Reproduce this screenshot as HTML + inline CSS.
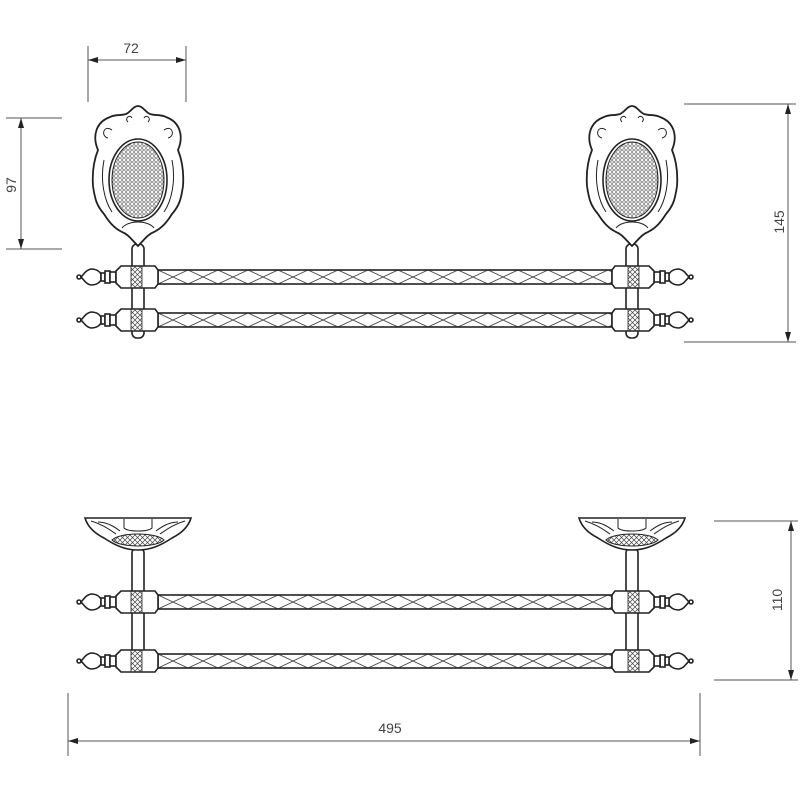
<!DOCTYPE html>
<html><head><meta charset="utf-8"><style>html,body{margin:0;padding:0;background:#fff}svg{display:block}text{font-family:"Liberation Sans",sans-serif;font-size:14px;fill:#444}</style></head>
<body>
<svg width="800" height="800" viewBox="0 0 800 800" xmlns="http://www.w3.org/2000/svg">
<defs>
<pattern id="net" width="5" height="5" patternUnits="userSpaceOnUse"><path d="M0 0L5 5M5 0L0 5" stroke="#444" stroke-width="0.7"/></pattern>
<pattern id="hex" width="4" height="4" patternUnits="userSpaceOnUse"><circle cx="2" cy="2" r="1.3" fill="none" stroke="#444" stroke-width="0.6"/></pattern>
<pattern id="tubeX" width="60" height="14" patternUnits="userSpaceOnUse" x="158" y="-7"><path d="M0 0L30 14L60 0M0 14L30 0L60 14" fill="none" stroke="#444" stroke-width="0.9"/></pattern>
<marker id="ar" viewBox="0 0 10 6" refX="10" refY="3" markerWidth="10" markerHeight="6" orient="auto-start-reverse" markerUnits="userSpaceOnUse"><path d="M0 0L10 3L0 6z" fill="#222"/></marker>
<g id="endL" fill="#fff" stroke="#222" stroke-width="1.6">
<circle cx="79" cy="0" r="2"/>
<path d="M81 0 C84 -3 86 -7 91 -8 C97 -8 100 -5 101 -3 L101 3 C100 5 97 8 91 8 C86 7 84 3 81 0z"/>
<rect x="101" y="-4" width="4" height="8"/>
<rect x="105" y="-6" width="5" height="12"/>
<rect x="110" y="-5" width="6" height="10"/>
<path d="M116 -6 L121 -11 L155 -11 L158 -7 L158 7 L155 11 L121 11 L116 6z"/>
<rect x="131" y="-11" width="11" height="22" fill="url(#net)" stroke-width="0.8"/>
</g>
<g id="bar">
<rect x="158" y="-7" width="454" height="14" fill="url(#tubeX)" stroke="#222" stroke-width="1.6"/>
<use href="#endL"/>
<use href="#endL" transform="translate(770,0) scale(-1,1)"/>
</g>
<g id="shield" stroke="#222" fill="#fff">
<path stroke-width="1.8" d="M138 106 C143 106 145 112 150 114 C156 116 160 114 166 117 C180 122 184 136 178 150 C182 160 184 172 183 186 C181 200 179 206 172 214 C167 222 162 228 154 232 C148 234 144 240 138 246 C132 240 128 234 122 232 C114 228 109 222 104 214 C97 206 95 200 93 186 C92 172 94 160 98 150 C92 136 96 122 110 117 C116 114 120 116 126 114 C131 112 133 106 138 106z"/>
<ellipse cx="138" cy="180" rx="29" ry="41" stroke-width="1.6"/>
<ellipse cx="138" cy="180" rx="26" ry="38" fill="url(#hex)" stroke-width="1"/>
<path fill="none" stroke-width="1" d="M112 130 C104 124 100 136 108 138 M164 130 C172 124 176 136 168 138 M128 122 C124 118 130 114 132 118 M148 122 C152 118 146 114 144 118 M122 228 C128 220 148 220 154 228 M104 160 C100 180 104 200 112 212 M172 160 C176 180 172 200 164 212"/>
</g>
<g id="cup" fill="#fff" stroke="#222" stroke-width="1.6">
<path d="M85 518 L191 518 C188 528 180 534 172 538 C160 546 150 550 138 550 C126 550 116 546 104 538 C96 534 88 528 85 518z"/>
<path d="M112 540 C120 548 156 548 164 540 C156 532 120 532 112 540z" fill="url(#net)" stroke-width="1"/>
<path fill="none" stroke-width="1" d="M91 521 C102 524 110 530 116 534 M185 521 C174 524 166 530 160 534 M124 519 L124 528 C128 532 148 532 152 528 L152 519 M98 522 C108 522 116 528 120 531 M178 522 C168 522 160 528 156 531"/>
</g>
</defs>
<g stroke="#555" stroke-width="1" fill="none">
<line x1="88" y1="46" x2="88" y2="102"/><line x1="186" y1="46" x2="186" y2="102"/>
<line x1="88" y1="60" x2="186" y2="60" marker-start="url(#ar)" marker-end="url(#ar)"/>
<line x1="6" y1="118" x2="62" y2="118"/><line x1="6" y1="249" x2="62" y2="249"/>
<line x1="21" y1="118" x2="21" y2="249" marker-start="url(#ar)" marker-end="url(#ar)"/>
<line x1="684" y1="104" x2="796" y2="104"/><line x1="684" y1="342" x2="796" y2="342"/>
<line x1="788" y1="104" x2="788" y2="342" marker-start="url(#ar)" marker-end="url(#ar)"/>
<line x1="714" y1="521" x2="798" y2="521"/><line x1="714" y1="680" x2="798" y2="680"/>
<line x1="791" y1="521" x2="791" y2="680" marker-start="url(#ar)" marker-end="url(#ar)"/>
<line x1="68" y1="693" x2="68" y2="756"/><line x1="700" y1="693" x2="700" y2="756"/>
<line x1="68" y1="741" x2="700" y2="741" marker-start="url(#ar)" marker-end="url(#ar)"/>
</g>
<text x="131" y="53" text-anchor="middle">72</text>
<text transform="translate(16,185) rotate(-90)" text-anchor="middle">97</text>
<text transform="translate(784,222) rotate(-90)" text-anchor="middle">145</text>
<text transform="translate(782,600) rotate(-90)" text-anchor="middle">110</text>
<text x="390" y="733" text-anchor="middle">495</text>
<g fill="#fff" stroke="#222" stroke-width="1.6">
<rect x="132" y="244" width="12" height="94" rx="5"/>
<rect x="626" y="244" width="12" height="94" rx="5"/>
</g>
<use href="#bar" transform="translate(0,277)"/>
<use href="#bar" transform="translate(0,320)"/>
<use href="#shield"/>
<use href="#shield" transform="translate(494,0)"/>
<g fill="#fff" stroke="#222" stroke-width="1.6">
<rect x="132" y="548" width="12" height="112" rx="5"/>
<rect x="626" y="548" width="12" height="112" rx="5"/>
</g>
<use href="#bar" transform="translate(0,602)"/>
<use href="#bar" transform="translate(0,661)"/>
<use href="#cup"/>
<use href="#cup" transform="translate(494,0)"/>
</svg>
</body></html>
